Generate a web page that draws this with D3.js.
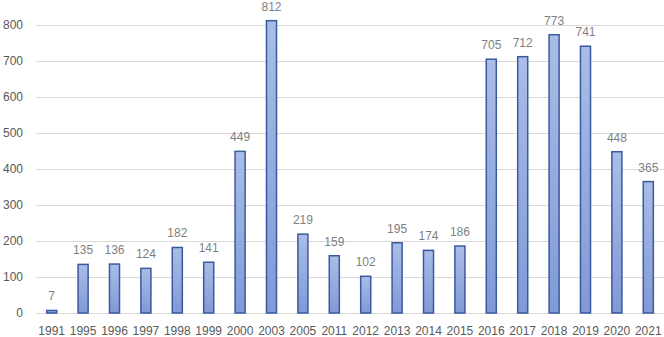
<!DOCTYPE html>
<html>
<head>
<meta charset="utf-8">
<script src="https://cdn.jsdelivr.net/npm/d3@7"></script>
<style>
  body { margin: 0; background: #fff; }
  svg { display: block; font-family: "Liberation Sans", Arial, sans-serif; }
</style>
</head>
<body>
<div id="chart"></div>
<script>
// data
var years = ["1991", "1995", "1996", "1997", "1998", "1999", "2000", "2003", "2005", "2011",
             "2012", "2013", "2014", "2015", "2016", "2017", "2018", "2019", "2020", "2021"];
var counts = [7, 135, 136, 124, 182, 141, 449, 812, 219, 159,
              102, 195, 174, 186, 705, 712, 773, 741, 448, 365];
var yTicks = [0, 100, 200, 300, 400, 500, 600, 700, 800];

var width = 664;
var height = 337;
var margin = { top: 25, right: 0, bottom: 24, left: 36 };

var svg = d3.select('#chart')
    .append('svg')
    .attr('width', width)
    .attr('height', height);

// gradient for the bars
var grad = svg.append('defs').append('linearGradient')
    .attr('id', 'barFill')
    .attr('x1', 0).attr('y1', 0).attr('x2', 0).attr('y2', 1);
grad.append('stop').attr('offset', '0%').attr('stop-color', '#aabde8');
grad.append('stop').attr('offset', '100%').attr('stop-color', '#8199d6');

var x = d3.scaleBand()
    .domain(years)
    .range([margin.left, width - margin.right])
    .paddingInner(0.68)
    .paddingOuter(0.34);

var y = d3.scaleLinear()
    .domain([0, 800])
    .range([height - margin.bottom, margin.top]);

// gridlines
svg.append('g')
    .selectAll('line')
    .data(yTicks).enter()
    .append('line')
    .attr('x1', margin.left)
    .attr('x2', width - margin.right)
    .attr('y1', function (d) { return Math.round(y(d)) + 0.5; })
    .attr('y2', function (d) { return Math.round(y(d)) + 0.5; })
    .style('stroke', '#d9d9d9')
    .style('stroke-width', 1);

// y labels
svg.append('g')
    .selectAll('text')
    .data(yTicks).enter()
    .append('text')
    .attr('x', 23)
    .attr('y', function (d) { return y(d); })
    .attr('dy', '0.35em')
    .attr('text-anchor', 'end')
    .style('font-size', '12px')
    .style('fill', '#595959')
    .text(function (d) { return d; });

// bars
svg.append('g')
    .selectAll('rect')
    .data(counts).enter()
    .append('rect')
    .attr('x', function (d, i) { return x(years[i]); })
    .attr('y', function (d) { return y(d); })
    .attr('width', x.bandwidth())
    .attr('height', function (d) { return y(0) - y(d); })
    .style('fill', 'url(#barFill)')
    .style('stroke', '#3a5a9e')
    .style('stroke-width', 1.5);

// value labels
svg.append('g')
    .selectAll('text')
    .data(counts).enter()
    .append('text')
    .attr('x', function (d, i) { return x(years[i]) + x.bandwidth() / 2; })
    .attr('y', function (d) { return y(d) - 10; })
    .attr('text-anchor', 'middle')
    .style('font-size', '12px')
    .style('fill', '#7f7f7f')
    .text(function (d) { return d; });

// x labels
svg.append('g')
    .selectAll('text')
    .data(years).enter()
    .append('text')
    .attr('x', function (d) { return x(d) + x.bandwidth() / 2; })
    .attr('y', 335)
    .attr('text-anchor', 'middle')
    .style('font-size', '12px')
    .style('fill', '#595959')
    .text(function (d) { return d; });
</script>
</body>
</html>
